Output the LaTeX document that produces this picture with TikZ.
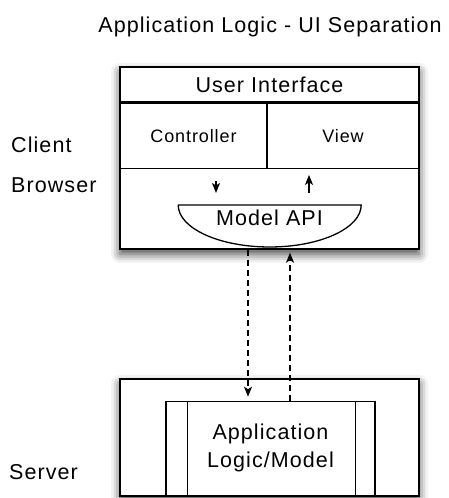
\documentclass[tikz,border=0pt]{standalone}
\usepackage{fontspec}
\setmainfont[LetterSpace=5]{Liberation Sans}
\usetikzlibrary{arrows.meta,shadows,shadows.blur,positioning}
\tikzstyle{tier}=[rectangle,draw=black,line width=1.4pt,fill=white,inner sep=0pt,
  blur shadow={shadow xshift=0pt,shadow yshift=-5pt,shadow blur radius=9pt,shadow opacity=75}]
\tikzstyle{cell}=[rectangle,draw=black,line width=1.3pt,inner sep=0pt,align=center]
\tikzstyle{label}=[inner sep=0pt,align=left]
\tikzstyle{small}=[font=\fontsize{18}{21}\selectfont]
\tikzstyle{link}=[-{Stealth[length=10pt,width=8pt,inset=2.5pt]},line width=1.3pt]
\tikzstyle{remote}=[link,dash pattern=on 6pt off 4pt]

\begin{document}
\begin{tikzpicture}[x=1pt,y=1pt,font=\fontsize{21.5}{25}\selectfont]
    \useasboundingbox (0,0) rectangle (449,498);

    \node[label] (title) at (270,471) {Application Logic - UI Separation};

    % client side
    \node[tier,minimum width=299pt,minimum height=182pt] (client) at (269.5,340) {};
    \node[cell,minimum width=299pt,minimum height=35pt,anchor=north] (ui) at (client.north) {User Interface};
    \node[cell,small,minimum width=147pt,minimum height=65pt,anchor=north west] (ctrl) at (ui.south west) {Controller};
    \node[cell,small,minimum width=152pt,minimum height=65pt,anchor=north east] (view) at (ui.south east) {View};
    \node[inner sep=0pt,minimum width=183pt,minimum height=26pt,anchor=north] (api) at (269.5,293) {Model API};
    \draw[line width=1.3pt] (api.north west) -- (api.north east)
      arc[start angle=0,end angle=-180,x radius=91.5pt,y radius=42pt];

    \node[label,anchor=west] (browser) at (11,333) {Client\\[15pt]Browser};

    % server side
    \node[tier,minimum width=299pt,minimum height=117pt] (server) at (269.5,60.5) {};
    \node[cell,minimum width=209pt,minimum height=94pt,anchor=south] (app) at (270.5,2) {Application\\[3pt]Logic/Model};
    \draw[line width=1.3pt] ([xshift=22pt]app.north west) -- ([xshift=22pt]app.south west);
    \draw[line width=1.3pt] ([xshift=-20pt]app.north east) -- ([xshift=-20pt]app.south east);

    \node[label,anchor=west] (srv) at (9,26) {Server};

    \draw[link] ([xshift=22.5pt,yshift=-12pt]ctrl.south) -- ([xshift=-53.5pt,yshift=12pt]api.north);
    \draw[link] ([xshift=39.5pt,yshift=12pt]api.north) -- ([xshift=-34pt,yshift=-6pt]view.south);

    \draw[remote] ([xshift=-21.5pt]client.south) -- ([xshift=-22.5pt,yshift=4pt]app.north);
    \draw[remote] ([xshift=19.5pt]app.north) -- ([xshift=20.5pt,yshift=-3pt]client.south);
\end{tikzpicture}
\end{document}
